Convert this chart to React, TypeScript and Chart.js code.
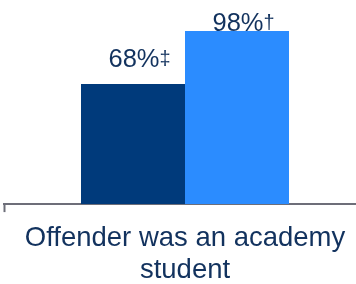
import React, { useEffect, useRef } from "react";
import { Chart, registerables } from "chart.js";

Chart.register(...registerables);

const categories: (string | string[])[] = [["Offender was an academy", "student"]];
const seriesNames = ["Group A", "Group B"];
const seriesA = [68];
const seriesB = [98];
const valueLabels = ["68%", "98%"];
const valueMarks = ["‡", "†"];

const TEXT = "#12325e";
const FONT = "'Liberation Sans', Arial, sans-serif";

const labelPlugin = {
  id: "valueLabels",
  afterDatasetsDraw(chart: any) {
    const ctx = chart.ctx;
    chart.data.datasets.forEach((_ds: any, i: number) => {
      const meta = chart.getDatasetMeta(i);
      meta.data.forEach((bar: any) => {
        const main = valueLabels[i];
        const mark = valueMarks[i];
        ctx.save();
        ctx.fillStyle = TEXT;
        ctx.textBaseline = "alphabetic";
        ctx.font = `25.5px ${FONT}`;
        const w = ctx.measureText(main).width;
        const baseline = Math.max(bar.y - 17, 31);
        ctx.textAlign = "left";
        const x0 = bar.x - w / 2 + 1;
        ctx.fillText(main, x0, baseline);
        ctx.font = `20px ${FONT}`;
        ctx.fillText(mark, x0 + w, baseline - 2);
        ctx.restore();
      });
    });
  },
};

export default function App() {
  const ref = useRef<HTMLCanvasElement>(null);
  useEffect(() => {
    document.body.style.margin = "0";
    const chart = new Chart(ref.current as HTMLCanvasElement, {
      type: "bar",
      data: {
        labels: categories,
        datasets: [
          { label: seriesNames[0], data: seriesA, backgroundColor: "#003a7b" },
          { label: seriesNames[1], data: seriesB, backgroundColor: "#2b8cff" },
        ],
      },
      options: {
        animation: false,
        responsive: false,
        maintainAspectRatio: false,
        layout: { padding: { left: 4, right: 4, top: 27.5, bottom: 3 } },
        datasets: { bar: { categoryPercentage: 0.5746, barPercentage: 1 } },
        plugins: { legend: { display: false }, tooltip: { enabled: false } },
        scales: {
          y: { display: false, min: 0, max: 100 },
          x: {
            offset: true,
            border: { display: true, color: "#6d6e79", width: 2 },
            grid: {
              display: true,
              offset: true,
              drawOnChartArea: false,
              drawTicks: true,
              tickLength: 8,
              tickWidth: 2,
              tickColor: "#6d6e79",
              color: "#6d6e79",
            },
            ticks: {
              color: TEXT,
              padding: 10,
              maxRotation: 0,
              autoSkip: false,
              font: { family: FONT, size: 27.5, lineHeight: 1.18 },
            },
          },
        },
      },
      plugins: [labelPlugin],
    });
    return () => chart.destroy();
  }, []);
  return (
    <div style={{ position: "absolute", left: 0, top: 0, width: 356, height: 284, overflow: "hidden", background: "#fff" }}>
      <canvas ref={ref} width={370} height={300} style={{ display: "block", width: 370, height: 300 }} />
    </div>
  );
}
